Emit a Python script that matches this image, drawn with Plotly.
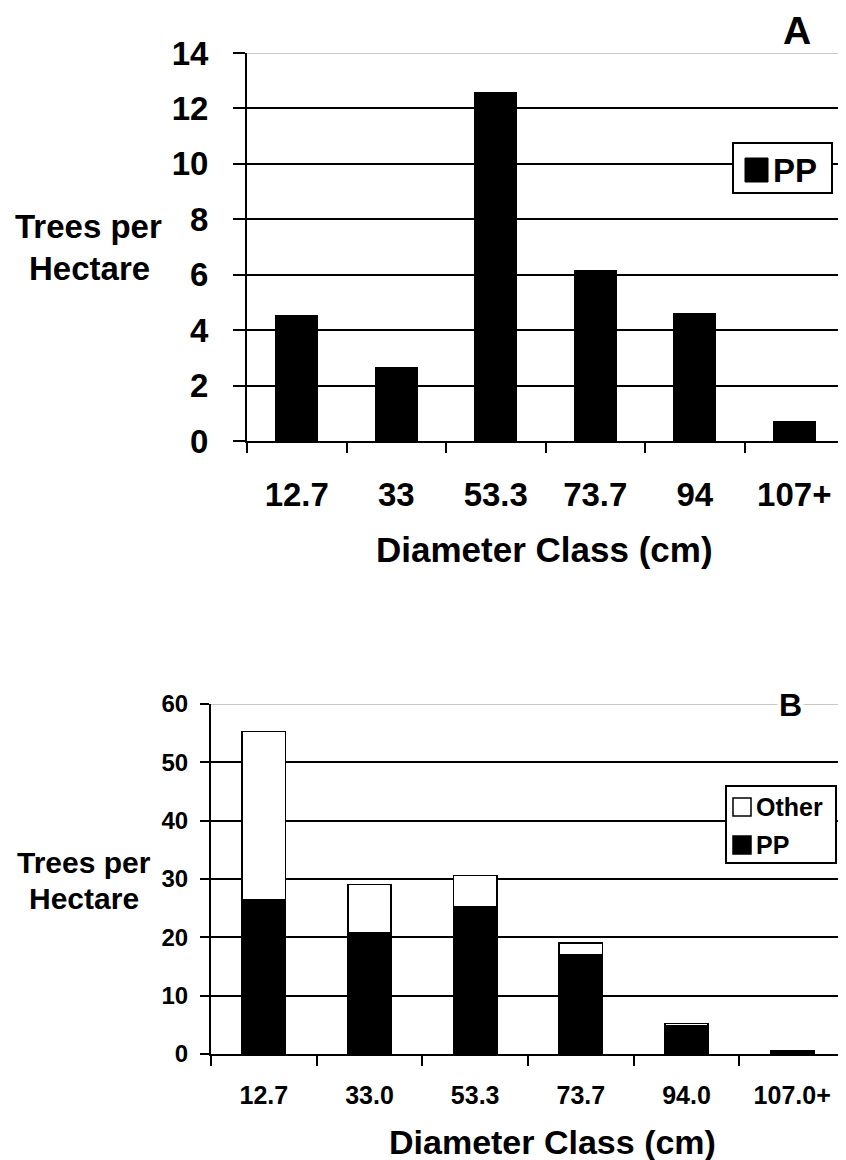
import plotly.graph_objects as go

# ---------------- data ----------------
top_classes = ["12.7", "33", "53.3", "73.7", "94", "107+"]
top_pp = [4.54, 2.67, 12.59, 6.17, 4.6, 0.7]

bottom_classes = ["12.7", "33.0", "53.3", "73.7", "94.0", "107.0+"]
bottom_pp = [26.5, 20.8, 25.2, 17.1, 4.8, 0.57]
bottom_other = [28.8, 8.3, 5.4, 1.9, 0.45, 0.0]

x_title = "Diameter Class (cm)"
y_title_lines = ["Trees per", "Hectare"]
panel_labels = ["A", "B"]
series_names = ["PP", "Other"]

# ---------------- helpers ----------------
# the page has an 8px body margin, so the figure is drawn 8px right/down;
# coordinates below are given in reference-window pixels and shifted back.
OFF = 8
W, H = 846 - OFF, 1160 - OFF
FONT = "Liberation Sans, Arial, sans-serif"


def px(x):
    return (x - OFF) / W


def py(y):
    return 1 - (y - OFF) / H


def f(size):
    return dict(family=FONT, size=size, color="black", weight="bold")


fig = go.Figure()

fig.add_trace(go.Bar(x=top_classes, y=top_pp, name=series_names[0], xaxis="x", yaxis="y",
                     marker=dict(color="black", line=dict(color="black", width=1)),
                     width=0.42, showlegend=False))
fig.add_trace(go.Bar(x=bottom_classes, y=bottom_pp, name=series_names[0], xaxis="x2", yaxis="y2",
                     marker=dict(color="black", line=dict(color="black", width=1.5)),
                     width=0.41, showlegend=False))
fig.add_trace(go.Bar(x=bottom_classes, y=bottom_other, name=series_names[1], xaxis="x2", yaxis="y2",
                     marker=dict(color="white", line=dict(color="black", width=1.5)),
                     width=0.41, showlegend=False))

common_x = dict(type="category", showline=True, linecolor="black", linewidth=2,
                ticks="outside", tickson="boundaries", tickwidth=2, tickcolor="black",
                showgrid=False, zeroline=False, fixedrange=True, automargin=False)
common_y = dict(showline=True, linecolor="black", linewidth=2, ticks="outside",
                tickwidth=2, tickcolor="black", showgrid=True, gridcolor="black",
                gridwidth=2, zeroline=False, fixedrange=True, automargin=False)

fig.update_layout(
    template="none",
    width=W, height=H, autosize=False,
    margin=dict(l=0, r=0, t=0, b=0, pad=0),
    paper_bgcolor="white", plot_bgcolor="white",
    barmode="stack",
    font=f(20),
    showlegend=False,
    xaxis=dict(common_x, domain=[px(247), px(844)], anchor="y", ticklen=10,
               tickfont=f(33), ticklabelstandoff=23),
    yaxis=dict(common_y, domain=[py(441), py(53)], anchor="x", range=[0, 14], dtick=2,
               ticklen=12, tickfont=f(33), ticklabelstandoff=18),
    xaxis2=dict(common_x, domain=[px(211), px(845)], anchor="y2", ticklen=10,
                tickfont=f(25), ticklabelstandoff=18),
    yaxis2=dict(common_y, domain=[py(1054), py(704)], anchor="x2", range=[0, 60], dtick=10,
                ticklen=9, tickfont=f(24), ticklabelstandoff=7),
)

shapes = []
# grey top gridlines
shapes.append(dict(type="line", xref="x domain", yref="y", x0=0, x1=1, y0=14, y1=14,
                   line=dict(color="#c8c8c8", width=2), layer="above"))
shapes.append(dict(type="line", xref="x2 domain", yref="y2", x0=0, x1=1, y0=60, y1=60,
                   line=dict(color="#c8c8c8", width=2), layer="above"))
# legend A
shapes.append(dict(type="rect", xref="paper", yref="paper", x0=px(733), x1=px(832),
                   y0=py(193), y1=py(143), line=dict(color="black", width=2),
                   fillcolor="white", layer="above"))
shapes.append(dict(type="rect", xref="paper", yref="paper", x0=px(745), x1=px(768),
                   y0=py(182), y1=py(158), line=dict(color="black", width=1),
                   fillcolor="black", layer="above"))
# legend B
shapes.append(dict(type="rect", xref="paper", yref="paper", x0=px(726), x1=px(836),
                   y0=py(863), y1=py(786), line=dict(color="black", width=2),
                   fillcolor="white", layer="above"))
shapes.append(dict(type="rect", xref="paper", yref="paper", x0=px(733), x1=px(751),
                   y0=py(816), y1=py(798), line=dict(color="black", width=1.5),
                   fillcolor="white", layer="above"))
shapes.append(dict(type="rect", xref="paper", yref="paper", x0=px(733), x1=px(751),
                   y0=py(854), y1=py(836), line=dict(color="black", width=1.5),
                   fillcolor="black", layer="above"))
fig.update_layout(shapes=shapes)

ann = []
# axis titles top
ann.append(dict(text=x_title, xref="paper", yref="paper", x=px(544), y=py(549),
                xanchor="center", yanchor="middle", showarrow=False, font=f(35)))
ann.append(dict(text=y_title_lines[0], xref="paper", yref="paper", x=px(88), y=py(226),
                xanchor="center", yanchor="middle", showarrow=False, font=f(33)))
ann.append(dict(text=y_title_lines[1], xref="paper", yref="paper", x=px(89), y=py(268),
                xanchor="center", yanchor="middle", showarrow=False, font=f(33)))
# axis titles bottom
ann.append(dict(text=x_title, xref="paper", yref="paper", x=px(552), y=py(1142),
                xanchor="center", yanchor="middle", showarrow=False, font=f(34)))
ann.append(dict(text=y_title_lines[0], xref="paper", yref="paper", x=px(84), y=py(862),
                xanchor="center", yanchor="middle", showarrow=False, font=f(30)))
ann.append(dict(text=y_title_lines[1], xref="paper", yref="paper", x=px(84), y=py(898),
                xanchor="center", yanchor="middle", showarrow=False, font=f(30)))
# panel labels
ann.append(dict(text=panel_labels[0], xref="paper", yref="paper", x=px(797), y=py(8),
                xanchor="center", yanchor="top", showarrow=False, font=f(39),
                borderpad=0))
ann.append(dict(text=panel_labels[1], xref="paper", yref="paper", x=px(790), y=py(705),
                xanchor="center", yanchor="middle", showarrow=False, font=f(32),
                bgcolor="white"))
# legend texts
ann.append(dict(text=series_names[0], xref="paper", yref="paper", x=px(771), y=py(170),
                xanchor="left", yanchor="middle", showarrow=False, font=f(33)))
ann.append(dict(text=series_names[1], xref="paper", yref="paper", x=px(754), y=py(807),
                xanchor="left", yanchor="middle", showarrow=False, font=f(25)))
ann.append(dict(text=series_names[0], xref="paper", yref="paper", x=px(754), y=py(845),
                xanchor="left", yanchor="middle", showarrow=False, font=f(25)))
fig.update_layout(annotations=ann)

fig.write_html("out.html")
